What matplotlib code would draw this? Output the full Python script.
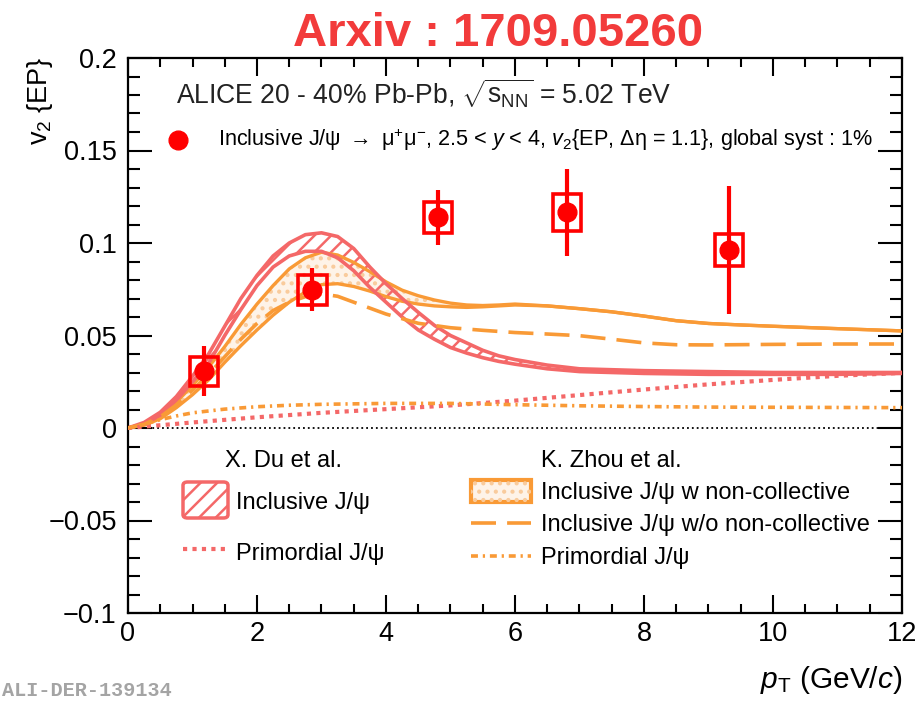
import numpy as np
import matplotlib
matplotlib.use("Agg")
import matplotlib.pyplot as plt
from matplotlib.patches import Rectangle, FancyBboxPatch
from matplotlib.ticker import MultipleLocator, FixedLocator, FixedFormatter

# ---------------- data ----------------
# ALICE inclusive J/psi v2{EP}, 20-40% Pb-Pb at 5.02 TeV
pt_x = [1.18, 2.86, 4.81, 6.81, 9.32]
pt_y = [0.0306, 0.0748, 0.1139, 0.1166, 0.0962]
pt_stat = [0.0135, 0.0115, 0.015, 0.0235, 0.0345]
pt_syst = [0.008, 0.0081, 0.0085, 0.010, 0.0088]

# X. Du et al. inclusive J/psi band
du_x = [0, 0.25, 0.5, 0.75, 1.0, 1.25, 1.5, 1.75, 2.0, 2.25, 2.5, 2.75, 3.0,
        3.25, 3.5, 3.75, 4.0, 4.25, 4.5, 4.75, 5.0, 5.25, 5.5, 5.75, 6.0,
        6.5, 7.0, 8.0, 9.0, 10.0, 11.0, 12.0]
du_hi = [0, 0.003, 0.0085, 0.017, 0.028, 0.040, 0.055, 0.070, 0.0825, 0.093,
         0.100, 0.1045, 0.1055, 0.1035, 0.097, 0.087, 0.078, 0.070, 0.0625,
         0.0555, 0.050, 0.046, 0.042, 0.039, 0.037, 0.034, 0.032, 0.031,
         0.0305, 0.030, 0.030, 0.030]
du_lo = [0, 0.002, 0.007, 0.015, 0.025, 0.035, 0.050, 0.064, 0.077, 0.087,
         0.093, 0.0955, 0.0955, 0.092, 0.085, 0.076, 0.068, 0.060, 0.053,
         0.048, 0.0435, 0.0405, 0.038, 0.036, 0.0345, 0.032, 0.0305,
         0.0295, 0.029, 0.029, 0.029, 0.0295]

# X. Du et al. primordial J/psi
du_prim_x = [0, 1, 2, 3, 4, 5, 6, 7, 8, 9, 10, 11, 12]
du_prim_y = [0, 0.003, 0.0058, 0.0082, 0.0102, 0.0122, 0.0148, 0.0178,
             0.0208, 0.0236, 0.026, 0.0282, 0.0298]

# K. Zhou et al. inclusive J/psi with non-collective contribution (band)
zh_x = [0, 0.25, 0.5, 0.75, 1.0, 1.25, 1.5, 1.75, 2.0, 2.25, 2.5, 2.75, 3.0,
        3.25, 3.5, 3.75, 4.0, 4.25, 4.5, 4.75, 5.0, 5.25, 5.5, 5.75, 6.0,
        6.5, 7.0, 7.5, 8.0, 8.5, 9.0, 9.5, 10.0, 11.0, 12.0]
zh_hi = [0, 0.002, 0.007, 0.014, 0.023, 0.033, 0.044, 0.056, 0.067, 0.077,
         0.086, 0.092, 0.095, 0.0935, 0.0895, 0.0845, 0.079, 0.0745, 0.0715,
         0.0692, 0.0675, 0.0665, 0.0662, 0.0665, 0.067, 0.066, 0.0645,
         0.0628, 0.0605, 0.058, 0.0565, 0.0557, 0.055, 0.0537, 0.0525]
zh_lo = [0, 0.0015, 0.005, 0.011, 0.018, 0.026, 0.0355, 0.0445, 0.053, 0.061,
         0.068, 0.0735, 0.0775, 0.078, 0.0765, 0.074, 0.071, 0.0685, 0.067,
         0.066, 0.0655, 0.0652, 0.0655, 0.066, 0.0665, 0.066, 0.0645,
         0.0628, 0.0605, 0.058, 0.0565, 0.0557, 0.055, 0.0537, 0.0525]

# K. Zhou et al. inclusive J/psi without non-collective contribution
zh_wo_x = [0, 0.25, 0.5, 0.75, 1.0, 1.25, 1.5, 1.75, 2.0, 2.25, 2.5, 2.75,
           3.0, 3.25, 3.5, 3.75, 4.0, 4.5, 5.0, 5.5, 6.0, 6.5, 7.0, 7.5, 8.0,
           8.5, 9.0, 10.0, 11.0, 12.0]
zh_wo_y = [0, 0.002, 0.006, 0.0125, 0.0205, 0.029, 0.0385, 0.048, 0.0565,
           0.0635, 0.068, 0.071, 0.0725, 0.0712, 0.068, 0.0648, 0.0616,
           0.0566, 0.0542, 0.0528, 0.0516, 0.0508, 0.0499, 0.048, 0.046,
           0.045, 0.0449, 0.0452, 0.0454, 0.0454]

# K. Zhou et al. primordial J/psi
zh_prim_x = [0, 0.25, 0.5, 0.75, 1.0, 1.5, 2, 2.5, 3, 4, 5, 6, 7, 8, 9, 10,
             11, 12]
zh_prim_y = [0, 0.002, 0.0045, 0.0065, 0.0082, 0.0102, 0.0115, 0.0123,
             0.0128, 0.0133, 0.0133, 0.0126, 0.012, 0.0116, 0.0113, 0.0112,
             0.0111, 0.011]

x_ticks = [0, 2, 4, 6, 8, 10, 12]
x_tick_labels = ["0", "2", "4", "6", "8", "10", "12"]
y_ticks = [-0.1, -0.05, 0, 0.05, 0.1, 0.15, 0.2]
y_tick_labels = ["\u22120.1", "\u22120.05", "0", "0.05", "0.1", "0.15", "0.2"]

# ---------------- style ----------------
SALMON = "#F46868"
ORANGE = "#F99A36"
PEACH = "#FEF3E8"
DOTS = "#F9CB9C"
RED = "#FF0000"

plt.rcParams["font.family"] = ["Liberation Sans", "DejaVu Sans"]
plt.rcParams["mathtext.fontset"] = "custom"
plt.rcParams["mathtext.rm"] = "Liberation Sans"
plt.rcParams["mathtext.it"] = "Liberation Sans:italic"
plt.rcParams["mathtext.bf"] = "Liberation Sans:bold"
plt.rcParams["hatch.linewidth"] = 1.8
plt.rcParams["lines.scale_dashes"] = False

W, H = 920, 701
L, R, T, B = 128, 902, 58, 613

fig = plt.figure(figsize=(W / 100, H / 100), dpi=100)
ax = fig.add_axes([L / W, 1 - B / H, (R - L) / W, (B - T) / H])


def fx(px):
    return (px - L) / (R - L)


def fy(py):
    return (B - py) / (B - T)


ax.set_xlim(0, 12)
ax.set_ylim(-0.1, 0.2)

# zero line
ax.axhline(0, color="black", lw=1.3, dashes=(1.3, 2.2), zorder=1.5)

# Zhou band: light dotted fill
ax.fill_between(zh_x, zh_lo, zh_hi, facecolor=PEACH, linewidth=0, zorder=1)
ax.fill_between(zh_x, zh_lo, zh_hi, facecolor="none", edgecolor=DOTS,
                hatch="..", linewidth=0, zorder=1.2)
ax.plot(zh_x, zh_hi, color=ORANGE, lw=2.4, zorder=3)
ax.plot(zh_x, zh_lo, color=ORANGE, lw=2.4, zorder=3)

# Du band: hatched
ax.fill_between(du_x, du_lo, du_hi, facecolor="none", edgecolor=SALMON,
                hatch="//", linewidth=0, zorder=2)
ax.plot(du_x, du_hi, color=SALMON, lw=2.6, zorder=3)
ax.plot(du_x, du_lo, color=SALMON, lw=2.6, zorder=3)

# other model curves
ax.plot(zh_wo_x, zh_wo_y, color=ORANGE, lw=2.6, dashes=(18, 8), zorder=3)
ax.plot(du_prim_x, du_prim_y, color=SALMON, lw=3.0, dashes=(3, 3.8), zorder=3)
ax.plot(zh_prim_x, zh_prim_y, color=ORANGE, lw=2.6,
        dashes=(5, 3.5, 1.6, 3.5), zorder=3)

# data with systematic boxes
for x, y, s in zip(pt_x, pt_y, pt_syst):
    ax.add_patch(Rectangle((x - 0.22, y - s), 0.44, 2 * s, fill=False,
                           edgecolor=RED, lw=2.6, zorder=5))
ax.errorbar(pt_x, pt_y, yerr=pt_stat, fmt="o", color=RED, ms=13.5,
            elinewidth=3, capsize=0, zorder=6)

# axes and ticks
ax.xaxis.set_major_locator(FixedLocator(x_ticks))
ax.xaxis.set_major_formatter(FixedFormatter(x_tick_labels))
ax.yaxis.set_major_locator(FixedLocator(y_ticks))
ax.yaxis.set_major_formatter(FixedFormatter(y_tick_labels))
ax.xaxis.set_minor_locator(MultipleLocator(0.5))
ax.yaxis.set_minor_locator(MultipleLocator(0.01))
ax.tick_params(which="both", direction="in", top=True, right=True,
               colors="black")
ax.tick_params(axis="y", which="major", length=17, width=1.5,
               labelsize=19.5, pad=8)
ax.tick_params(axis="y", which="minor", length=8.5, width=1.5)
ax.tick_params(axis="x", which="major", length=13, width=1.5,
               labelsize=19.5, pad=6)
ax.tick_params(axis="x", which="minor", length=6.5, width=1.5)
for sp in ax.spines.values():
    sp.set_linewidth(1.6)

# title and axis labels
fig.text(498 / W, 1 - 46 / H, "Arxiv : 1709.05260", color="#F23B3B",
         fontsize=34, fontweight="bold", ha="center", va="baseline")
fig.text(40 / W, 1 - 57 / H, "v$_{2}$ {EP}", rotation=90, ha="center",
         va="top", fontsize=19.5)
fig.text(R / W, 1 - 688 / H, r"$p_{\mathrm{T}}$ (GeV/$c$)", ha="right",
         va="baseline", fontsize=21.5)
fig.text(2 / W, 1 / H, "ALI-DER-139134", family="Liberation Mono",
         weight="bold", color="#A4A4A4", fontsize=14.5, va="bottom")

# header and data legend
tr = ax.transAxes
ax.text(fx(176), fy(104),
        r"ALICE 20 - 40% Pb-Pb, $\sqrt{\mathrm{s}_{\mathrm{NN}}}$ = 5.02 TeV",
        transform=tr, fontsize=19.1, color="#222222", va="baseline")
ax.plot([fx(178)], [fy(140)], "o", transform=tr, color=RED, ms=13.5,
        zorder=6)
ax.text(fx(218), fy(146),
        "Inclusive J/\u03c8 $\\rightarrow$ \u03bc$^{+}$\u03bc$^{-}$, "
        "2.5 < $y$ < 4, $v_{2}${EP, \u0394\u03b7 = 1.1}, global syst : 1%",
        transform=tr, fontsize=15.6, va="baseline")

# model legend
ax.text(fx(225), fy(467), "X. Du et al.", transform=tr, fontsize=17,
        va="baseline")
ax.add_patch(FancyBboxPatch((fx(183), fy(518)), fx(228) - fx(183),
                            fy(482) - fy(518),
                            boxstyle="round,pad=0,rounding_size=0.006",
                            transform=tr, facecolor="none",
                            edgecolor=SALMON, lw=2.5, hatch="//", zorder=4))
ax.text(fx(236), fy(509), "Inclusive J/\u03c8", transform=tr, fontsize=17,
        va="baseline")
ax.plot([fx(183), fx(228)], [fy(549), fy(549)], transform=tr, color=SALMON,
        lw=3.0, dashes=(3, 3.8))
ax.text(fx(236), fy(560), "Primordial J/\u03c8", transform=tr, fontsize=17,
        va="baseline")

ax.text(fx(541), fy(467), "K. Zhou et al.", transform=tr, fontsize=17,
        va="baseline")
ax.add_patch(Rectangle((fx(471), fy(502)), fx(531) - fx(471),
                       fy(480) - fy(502), transform=tr, facecolor=PEACH,
                       edgecolor=ORANGE, lw=3, zorder=4))
ax.add_patch(Rectangle((fx(471), fy(502)), fx(531) - fx(471),
                       fy(480) - fy(502), transform=tr, facecolor="none",
                       edgecolor=DOTS, hatch="..", lw=0, zorder=4.1))
ax.text(fx(541), fy(499), "Inclusive J/\u03c8 w non-collective", transform=tr,
        fontsize=17, va="baseline")
ax.plot([fx(471), fx(531)], [fy(523), fy(523)], transform=tr, color=ORANGE,
        lw=2.6, dashes=(18, 8))
ax.text(fx(541), fy(531), "Inclusive J/\u03c8 w/o non-collective",
        transform=tr, fontsize=17, va="baseline")
ax.plot([fx(471), fx(531)], [fy(556), fy(556)], transform=tr, color=ORANGE,
        lw=2.6, dashes=(5, 3.5, 1.6, 3.5))
ax.text(fx(541), fy(564), "Primordial J/\u03c8", transform=tr, fontsize=17,
        va="baseline")

fig.savefig("out.png", dpi=100)
